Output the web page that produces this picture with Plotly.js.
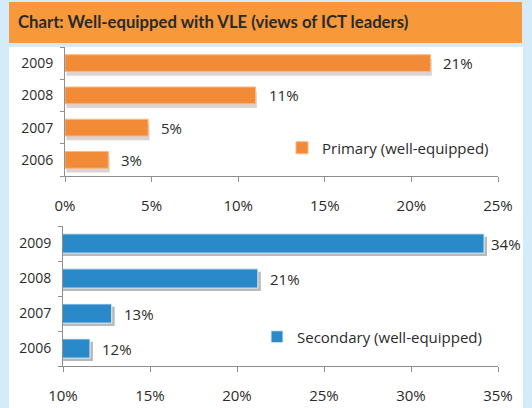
<!DOCTYPE html>
<html><head><meta charset="utf-8">
<script src="https://cdn.plot.ly/plotly-3.0.1.min.js"></script>
<style>html,body{margin:0;padding:0;background:#d4ecfa;}#c{width:532px;height:408px;}</style>
</head><body><div id="c"></div>
<script>
const years = ["2006","2007","2008","2009"];
const primaryValues = [2.5, 4.8, 11.0, 21.1];
const primaryLabels = ["3%","5%","11%","21%"];
const secondaryValues = [11.55, 12.8, 21.2, 34.2];
const secondaryLabels = ["12%","13%","21%","34%"];
const primaryTicks = [0,5,10,15,20,25];
const secondaryTicks = [10,15,20,25,30,35];
const titleText = "Chart: Well-equipped with VLE (views of ICT leaders)";

const W = 532, H = 408;
const px = v => v / W, py = v => 1 - v / H;
const font = "'Open Sans', Lato, sans-serif";
const tfont = "Lato, 'Open Sans', sans-serif";
const txt = "#2b2b2b";
const axisCol = "#8f8f8f";

const wTop = 0.52, wBot = 0.55;
const traces = [
  {type:'bar', orientation:'h', y:years, x:primaryValues, base:0.08, width:wTop, offset:-wTop/2-0.13,
   marker:{color:'#ddd3d3'}, xaxis:'x', yaxis:'y', showlegend:false, hoverinfo:'skip'},
  {type:'bar', orientation:'h', y:years, x:primaryValues, width:wTop, name:'Primary (well-equipped)',
   marker:{color:'#f28b38', line:{color:'#f9b980', width:1}}, xaxis:'x', yaxis:'y', legend:'legend'},
  {type:'bar', orientation:'h', y:years, x:secondaryValues, base:0.17, width:wBot, offset:-wBot/2-0.08,
   marker:{color:'#b9b9b9'}, xaxis:'x2', yaxis:'y2', showlegend:false, hoverinfo:'skip'},
  {type:'bar', orientation:'h', y:years, x:secondaryValues, width:wBot, name:'Secondary (well-equipped)',
   marker:{color:'#2a89c9', line:{color:'#e8f2fa', width:1}}, xaxis:'x2', yaxis:'y2', legend:'legend2'}
];

const annotations = [];
years.forEach((y,i)=>{
  annotations.push({x:primaryValues[i], y:i, xref:'x', yref:'y', text:primaryLabels[i], showarrow:false,
    xanchor:'left', yanchor:'middle', xshift:11, font:{family:font, size:15, color:txt}});
  annotations.push({x:secondaryValues[i], y:i, xref:'x2', yref:'y2', text:secondaryLabels[i], showarrow:false,
    xanchor:'left', yanchor:'middle', xshift:(i===years.length-1?5:10), font:{family:font, size:15, color:txt}});
});
annotations.push({x:px(16), y:py(22), xref:'paper', yref:'paper', text:'<b>'+titleText+'</b>', showarrow:false,
  xanchor:'left', yanchor:'middle', font:{family:tfont, size:16.7, color:'#2a2a2a'}});

const axX = (ticks, range, dom, anchor) => ({domain:dom, range:range, tickvals:ticks, ticktext:ticks.map(t=>t+'%'),
  showgrid:false, zeroline:false, showline:true, linecolor:axisCol, linewidth:1, ticks:'outside', ticklen:5,
  tickcolor:axisCol, ticklabelstandoff:11, tickfont:{family:font, size:15, color:txt}, anchor:anchor, fixedrange:true});
const axY = (dom, anchor) => ({domain:dom, type:'category', categoryorder:'array', categoryarray:years, range:[-0.5,3.5],
  autorange:false, showgrid:false, zeroline:false, showline:true, linecolor:axisCol, linewidth:1, ticks:'outside', ticklen:4,
  tickson:'boundaries', tickcolor:axisCol, ticklabelstandoff:8, tickfont:{family:font, size:14, color:txt}, anchor:anchor, fixedrange:true});

const layout = {
  width:W, height:H, margin:{l:0,r:0,t:0,b:0},
  paper_bgcolor:'#d4ecfa', plot_bgcolor:'rgba(0,0,0,0)',
  barmode:'overlay', showlegend:true,
  xaxis: axX(primaryTicks, [0,25], [px(65), px(498)], 'y'),
  yaxis: axY([py(176), py(47)], 'x'),
  xaxis2: axX(secondaryTicks, [10,35], [px(63), px(498)], 'y2'),
  yaxis2: axY([py(366), py(226)], 'x2'),
  legend:{x:px(282), y:py(148), xanchor:'left', yanchor:'middle', bgcolor:'rgba(0,0,0,0)',
    font:{family:font, size:15, color:txt}, itemwidth:30},
  legend2:{x:px(257), y:py(337), xanchor:'left', yanchor:'middle', bgcolor:'rgba(0,0,0,0)',
    font:{family:font, size:15, color:txt}, itemwidth:30},
  shapes:[
    {type:'rect', xref:'paper', yref:'paper', x0:px(9), x1:px(523), y0:0, y1:py(47), fillcolor:'#ffffff', line:{width:0}, layer:'below'},
    {type:'rect', xref:'paper', yref:'paper', x0:px(9), x1:px(522), y0:py(43), y1:py(2), fillcolor:'#f7993b', line:{width:0}, layer:'below'}
  ],
  annotations:annotations
};
Plotly.newPlot('c', traces, layout, {displayModeBar:false, staticPlot:true});
</script></body></html>
